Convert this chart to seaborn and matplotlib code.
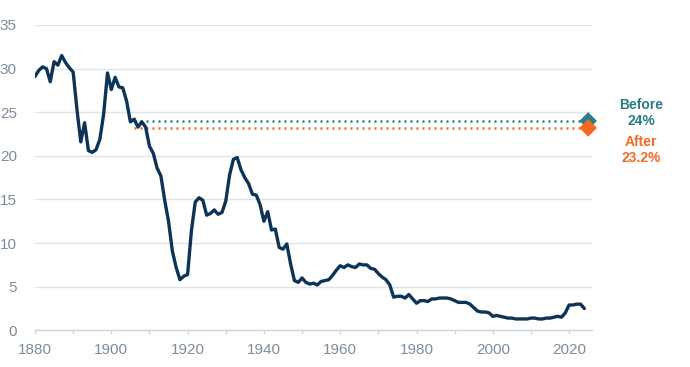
import numpy as np
import pandas as pd
import matplotlib.pyplot as plt
import seaborn as sns
from matplotlib.ticker import MultipleLocator

# DATA

years = list(range(1880, 2025))

rates = [
    29.1, 29.8, 30.2, 30.0, 28.5, 30.8, 30.4, 31.5, 30.7, 30.1,   # 1880s
    29.6, 25.3, 21.6, 23.8, 20.6, 20.4, 20.7, 21.9, 24.8, 29.5,   # 1890s
    27.6, 29.0, 27.9, 27.8, 26.3, 23.9, 24.2, 23.3, 23.9, 23.3,   # 1900s
    21.1, 20.3, 18.6, 17.7, 14.9, 12.5, 9.1, 7.2, 5.8, 6.2,       # 1910s
    6.4, 11.4, 14.7, 15.2, 14.9, 13.2, 13.4, 13.8, 13.3, 13.5,    # 1920s
    14.8, 17.8, 19.6, 19.8, 18.4, 17.5, 16.8, 15.6, 15.5, 14.4,   # 1930s
    12.5, 13.6, 11.5, 11.6, 9.5, 9.3, 9.9, 7.6, 5.7, 5.5,         # 1940s
    6.0, 5.5, 5.3, 5.4, 5.2, 5.6, 5.7, 5.8, 6.3, 6.9,             # 1950s
    7.4, 7.2, 7.5, 7.3, 7.2, 7.6, 7.5, 7.5, 7.1, 7.0,             # 1960s
    6.5, 6.1, 5.8, 5.2, 3.8, 3.9, 3.9, 3.7, 4.1, 3.6,             # 1970s
    3.1, 3.4, 3.4, 3.3, 3.6, 3.6, 3.7, 3.7, 3.7, 3.6,             # 1980s
    3.4, 3.2, 3.2, 3.2, 3.0, 2.6, 2.2, 2.1, 2.1, 2.0,             # 1990s
    1.6, 1.7, 1.6, 1.5, 1.4, 1.4, 1.3, 1.3, 1.3, 1.3,             # 2000s
    1.4, 1.4, 1.3, 1.3, 1.4, 1.4, 1.5, 1.6, 1.5, 2.0,             # 2010s
    2.9, 2.9, 3.0, 3.0, 2.5,                                      # 2020s
]

ref_years = [1906, 2025]
before_rate = 24.0
after_rate = 23.2
before_labels = ["Before", "24%"]
after_labels = ["After", "23.2%"]

df = pd.DataFrame({"year": years, "rate": rates})
ref_before = pd.DataFrame({"year": ref_years, "rate": [before_rate] * 2})
ref_after = pd.DataFrame({"year": ref_years, "rate": [after_rate] * 2})

# COLORS

navy = "#0c3456"
teal = "#2a7f82"
orange = "#f26a23"
grey_text = "#7d8c9b"
grid_col = "#dfe4e9"

# PLOT

sns.set_style("white")
plt.rcParams["font.family"] = ["Liberation Sans", "DejaVu Sans"]

fig = plt.figure(figsize=(6.9, 3.67), dpi=100)
ax = fig.add_axes([35 / 690, 1 - 330.3 / 367, (592 - 35) / 690, (330.3 - 25) / 367])

sns.lineplot(x="year", y="rate", data=ref_before, ax=ax, color=teal,
             linewidth=1.8, linestyle=(0, (0.8, 1.6)))
sns.lineplot(x="year", y="rate", data=ref_after, ax=ax, color=orange,
             linewidth=1.8, linestyle=(0, (0.8, 1.6)))
sns.lineplot(x="year", y="rate", data=df, ax=ax, color=navy, linewidth=2.4)

sns.scatterplot(x=[ref_years[1]], y=[before_rate], ax=ax, marker="D",
                s=80, color=teal, edgecolor="none", zorder=5, clip_on=False)
sns.scatterplot(x=[ref_years[1]], y=[after_rate], ax=ax, marker="D",
                s=80, color=orange, edgecolor="none", zorder=6, clip_on=False)

ax.set_xlim(1880, 2026)
ax.set_ylim(0, 35)
ax.set_xlabel("")
ax.set_ylabel("")

ax.xaxis.set_major_locator(MultipleLocator(20))
ax.xaxis.set_minor_locator(MultipleLocator(10))
ax.yaxis.set_major_locator(MultipleLocator(5))

ax.tick_params(axis="x", which="both", length=3, color="#cfd6dd", width=1,
               labelsize=11, labelcolor=grey_text, pad=6, bottom=True)
ax.tick_params(axis="y", length=0, labelsize=11, labelcolor=grey_text, pad=13)

ax.yaxis.grid(True, color=grid_col, linewidth=1)
ax.set_axisbelow(True)

for side in ["top", "right", "left"]:
    ax.spines[side].set_visible(False)
ax.spines["bottom"].set_color("#cfd6dd")
ax.spines["bottom"].set_linewidth(1)

# annotation text on the right
fig.text(641 / 690, 1 - 105 / 367, before_labels[0], color=teal, fontsize=10,
         fontweight="bold", ha="center", va="center")
fig.text(641 / 690, 1 - 121.5 / 367, before_labels[1], color=teal, fontsize=10,
         fontweight="bold", ha="center", va="center")
fig.text(641 / 690, 1 - 142 / 367, after_labels[0], color=orange, fontsize=10,
         fontweight="bold", ha="center", va="center")
fig.text(641 / 690, 1 - 158 / 367, after_labels[1], color=orange, fontsize=10,
         fontweight="bold", ha="center", va="center")

plt.savefig("out.png", dpi=100)
